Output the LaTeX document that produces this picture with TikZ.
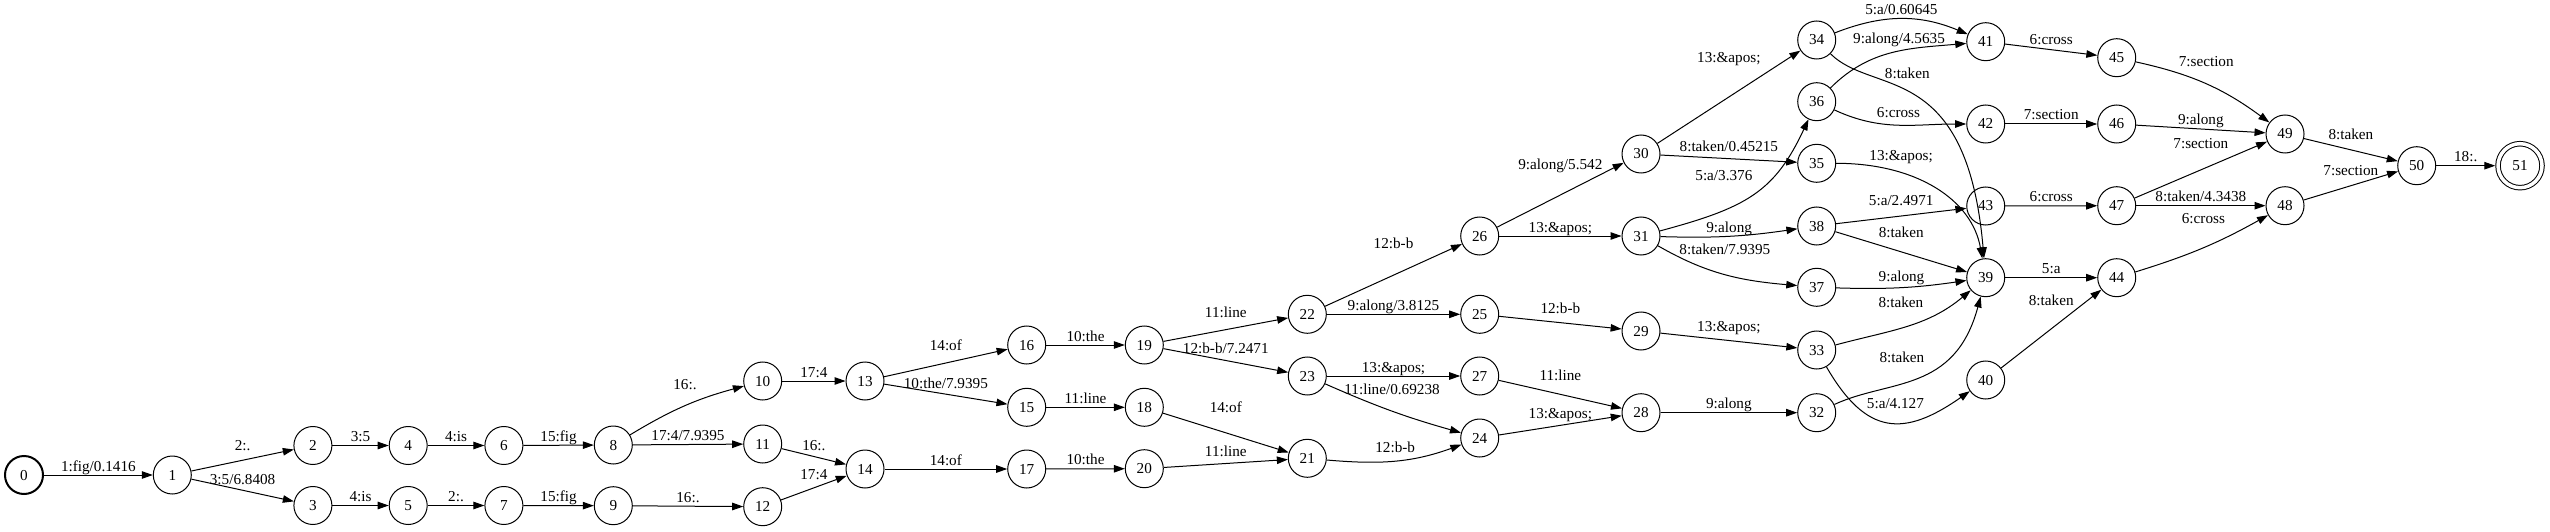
\documentclass[tikz,border=0pt]{standalone}
\usepackage{fontspec}
\setmainfont{Liberation Serif}
\usetikzlibrary{arrows.meta}

\begin{document}
\begin{tikzpicture}[x=1pt, y=1pt, line width=1pt, font=\fontsize{15.2}{18}\selectfont,
		>={Triangle[length=11pt,width=7.5pt]},
		every node/.style={inner sep=0pt, text height=10.5pt, text depth=3.5pt},
		state/.style={circle, draw, minimum size=38pt, text height=10pt, text depth=0pt}]
					\useasboundingbox (0,0) rectangle (2550,531);
					\node[state, line width=2pt] (q0) at (24, 56) {0};
					\node[state] (q1) at (172.3, 56) {1};
					\node[state] (q2) at (312.9, 85.5) {2};
					\node[state] (q3) at (312.9, 25.5) {3};
					\node[state] (q4) at (408.2, 85.5) {4};
					\node[state] (q5) at (408.2, 25.5) {5};
					\node[state] (q6) at (503.9, 85.5) {6};
					\node[state] (q7) at (503.9, 25.5) {7};
					\node[state] (q8) at (613.3, 86) {8};
					\node[state] (q9) at (613.3, 25.3) {9};
					\node[state] (q10) at (762.7, 150) {10};
					\node[state] (q11) at (762.7, 87) {11};
					\node[state] (q12) at (762.7, 24.3) {12};
					\node[state] (q13) at (865, 150) {13};
					\node[state] (q14) at (865, 62) {14};
					\node[state] (q15) at (1026.7, 123.7) {15};
					\node[state] (q16) at (1026.7, 186) {16};
					\node[state] (q17) at (1026.7, 62) {17};
					\node[state] (q18) at (1144.3, 123.7) {18};
					\node[state] (q19) at (1144.3, 186) {19};
					\node[state] (q20) at (1144.3, 62.3) {20};
					\node[state] (q21) at (1307.3, 72.7) {21};
					\node[state] (q22) at (1307.3, 216.7) {22};
					\node[state] (q23) at (1307.3, 155) {23};
					\node[state] (q24) at (1479.7, 93) {24};
					\node[state] (q25) at (1479.7, 216.7) {25};
					\node[state] (q26) at (1479.7, 295) {26};
					\node[state] (q27) at (1479.7, 155) {27};
					\node[state] (q28) at (1641, 118.3) {28};
					\node[state] (q29) at (1641, 200) {29};
					\node[state] (q30) at (1641, 377) {30};
					\node[state] (q31) at (1641, 295) {31};
					\node[state] (q32) at (1816.7, 118.3) {32};
					\node[state] (q33) at (1816.7, 181) {33};
					\node[state] (q34) at (1816.7, 491) {34};
					\node[state] (q35) at (1816.7, 367.7) {35};
					\node[state] (q36) at (1816.7, 429.3) {36};
					\node[state] (q37) at (1816.7, 243.7) {37};
					\node[state] (q38) at (1816.7, 305) {38};
					\node[state] (q39) at (1985.7, 253.3) {39};
					\node[state] (q40) at (1985.7, 151) {40};
					\node[state] (q41) at (1985.7, 489.3) {41};
					\node[state] (q42) at (1985.7, 407) {42};
					\node[state] (q43) at (1985.7, 325) {43};
					\node[state] (q44) at (2116.7, 253.3) {44};
					\node[state] (q45) at (2116.7, 473.3) {45};
					\node[state] (q46) at (2116.7, 407) {46};
					\node[state] (q47) at (2116.7, 325.3) {47};
					\node[state] (q48) at (2285, 325.3) {48};
					\node[state] (q49) at (2285, 397) {49};
					\node[state] (q50) at (2416.7, 365.3) {50};
					\node[state, double, double distance=3.5pt, minimum size=44pt, outer sep=2.75pt] (q51) at (2520, 365.3) {51};
					\draw[->] (q0) to node[above] {1:fig/0.1416} (q1);
					\draw[->] (q1) to node[above=6pt] {2:.} (q2);
					\draw[->] (q1) to node[above=2pt] {3:5/6.8408} (q3);
					\draw[->] (q2) to node[above] {3:5} (q4);
					\draw[->] (q3) to node[above] {4:is} (q5);
					\draw[->] (q4) to node[above] {4:is} (q6);
					\draw[->] (q5) to node[above] {2:.} (q7);
					\draw[->] (q6) to node[above] {15:fig} (q8);
					\draw[->] (q7) to node[above] {15:fig} (q9);
					\draw[->] (q8) to[bend left=8] node[above=12pt] {16:.} (q10);
					\draw[->] (q8) to node[above] {17:4/7.9395} (q11);
					\draw[->] (q9) to node[above] {16:.} (q12);
					\draw[->] (q10) to node[above] {17:4} (q13);
					\draw[->] (q11) to node[above=2pt] {16:.} (q14);
					\draw[->] (q12) to node[above=4pt] {17:4} (q14);
					\draw[->] (q13) to node[above=9pt] {14:of} (q16);
					\draw[->] (q13) to node[above=2pt] {10:the/7.9395} (q15);
					\draw[->] (q14) to node[above] {14:of} (q17);
					\draw[->] (q16) to node[above] {10:the} (q19);
					\draw[->] (q15) to node[above] {11:line} (q18);
					\draw[->] (q17) to node[above] {10:the} (q20);
					\draw[->] (q19) to node[above=8pt] {11:line} (q22);
					\draw[->] (q19) to node[above=3pt] {12:b-b/7.2471} (q23);
					\draw[->] (q18) to node[above=16pt] {14:of} (q21);
					\draw[->] (q20) to node[above=3pt] {11:line} (q21);
					\draw[->] (q22) to node[above=23pt] {12:b-b} (q26);
					\draw[->] (q22) to node[above] {9:along/3.8125} (q25);
					\draw[->] (q23) to node[above] {13:\&apos;} (q27);
					\draw[->] (q23) to[bend right=4] node[above=13pt] {11:line/0.69238} (q24);
					\draw[->] (q21) to[out=-5, in=-160] node[above=4pt] {12:b-b} (q24);
					\draw[->] (q26) to node[above=21pt] {9:along/5.542} (q30);
					\draw[->] (q26) to node[above] {13:\&apos;} (q31);
					\draw[->] (q25) to node[above=5pt] {12:b-b} (q29);
					\draw[->] (q27) to node[above=10pt] {11:line} (q28);
					\draw[->] (q24) to node[above=3pt] {13:\&apos;} (q28);
					\draw[->] (q30) to node[above=30pt] {13:\&apos;} (q34);
					\draw[->] (q30) to node[above=3pt] {8:taken/0.45215} (q35);
					\draw[->] (q31) to[out=15, in=-115, out distance=90pt, in distance=80pt] node[pos=.3, above=26pt] {5:a/3.376} (q36);
					\draw[->] (q31) to[bend right=5] node[above] {9:along} (q38);
					\draw[->] (q31) to[out=-30, in=175] node[above=16pt] {8:taken/7.9395} (q37);
					\draw[->] (q29) to node[above=5pt] {13:\&apos;} (q33);
					\draw[->] (q28) to node[above] {9:along} (q32);
					\draw[->] (q34) to[bend left=22] node[above] {5:a/0.60645} (q41);
					\draw[->] (q36) to[out=45, in=-175] node[pos=.55, above=4pt] {9:along/4.5635} (q41);
					\draw[->] (q34) to[out=-45, in=95, out distance=60pt, in distance=200pt] node[pos=.45, above=9pt] {8:taken} (q39);
					\draw[->] (q36) to[out=-25, in=180] node[above=4pt] {6:cross} (q42);
					\draw[->] (q35) to[out=0, in=100, out distance=80pt, in distance=60pt] node[pos=.3, above=8pt] {13:\&apos;} (q39);
					\draw[->] (q38) to node[above=6pt] {5:a/2.4971} (q43);
					\draw[->] (q38) to node[above=10pt] {8:taken} (q39);
					\draw[->] (q37) to[bend right=5] node[above=2pt] {9:along} (q39);
					\draw[->] (q33) to[out=15, in=-140] node[pos=.45, above=16pt] {8:taken} (q39);
					\draw[->] (q32) to[out=25, in=-105, out distance=60pt, in distance=100pt] node[pos=.4, above=17pt] {8:taken} (q39);
					\draw[->] (q33) to[out=-60, in=-145, distance=80pt] node[pos=.55, above=10pt] {5:a/4.127} (q40);
					\draw[->] (q39) to node[above] {5:a} (q44);
					\draw[->] (q40) to node[above=19pt] {8:taken} (q44);
					\draw[->] (q41) to node[above=1pt] {6:cross} (q45);
					\draw[->] (q42) to node[above] {7:section} (q46);
					\draw[->] (q43) to node[above] {6:cross} (q47);
					\draw[->] (q45) to[bend left=12] node[above=14pt] {7:section} (q49);
					\draw[->] (q46) to node[above] {9:along} (q49);
					\draw[->] (q47) to node[above=17pt] {7:section} (q49);
					\draw[->] (q47) to node[above] {8:taken/4.3438} (q48);
					\draw[->] (q44) to[bend right=6] node[above=20pt] {6:cross} (q48);
					\draw[->] (q49) to node[above=6pt] {8:taken} (q50);
					\draw[->] (q48) to node[above=6pt] {7:section} (q50);
					\draw[->] (q50) to node[above] {18:.} (q51);
				\end{tikzpicture}
\end{document}
